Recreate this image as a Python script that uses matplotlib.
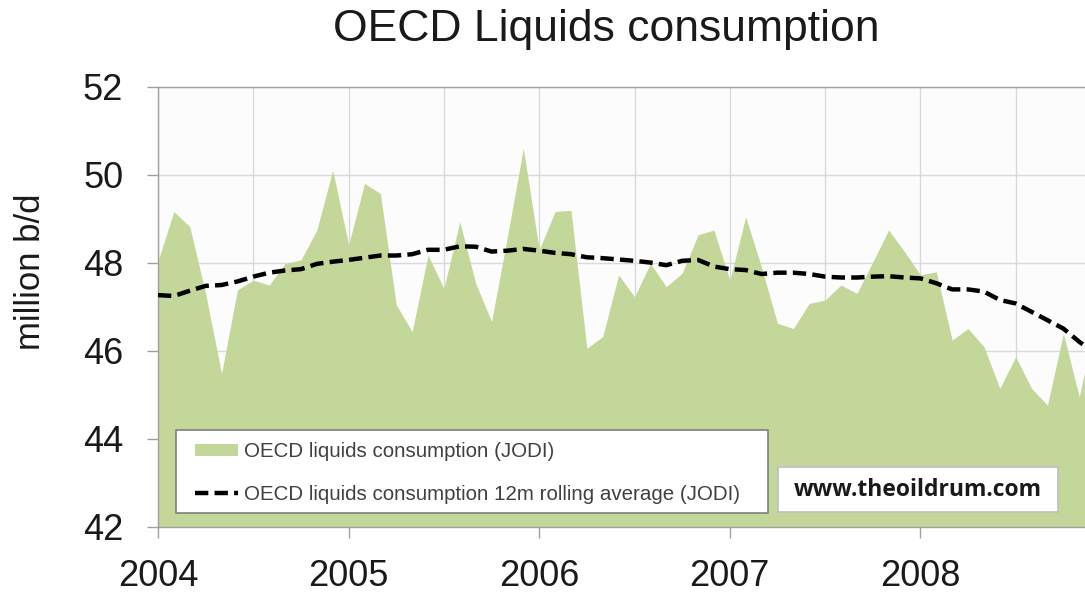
import numpy as np
import matplotlib
matplotlib.use("Agg")
import matplotlib.pyplot as plt
from matplotlib.patches import Patch, Rectangle
from matplotlib.lines import Line2D

# ---- data (monthly, starting Jan 2004) ----
start_year = 2004
consumption = [48.05, 49.17, 48.83, 47.30, 45.49, 47.39, 47.61, 47.50, 47.99, 48.07, 48.75, 50.11,
               48.41, 49.81, 49.58, 47.05, 46.44, 48.18, 47.42, 48.94, 47.54, 46.67, 48.60, 50.61,
               48.30, 49.17, 49.20, 46.06, 46.33, 47.73, 47.23, 47.99, 47.46, 47.77, 48.64, 48.75,
               47.61, 49.05, 47.90, 46.63, 46.51, 47.08, 47.16, 47.50, 47.31, 48.02, 48.75, 48.26,
               47.73, 47.80, 46.25, 46.51, 46.10, 45.15, 45.87, 45.15, 44.77, 46.40, 44.96, 46.60]
rolling_avg = [47.27, 47.25, 47.37, 47.48, 47.50, 47.58, 47.69, 47.78, 47.83, 47.86, 47.98, 48.03,
               48.07, 48.12, 48.17, 48.17, 48.20, 48.30, 48.30, 48.38, 48.37, 48.26, 48.28, 48.32,
               48.28, 48.23, 48.20, 48.13, 48.11, 48.08, 48.05, 48.01, 47.95, 48.05, 48.07, 47.92,
               47.86, 47.84, 47.75, 47.78, 47.78, 47.75, 47.69, 47.67, 47.67, 47.69, 47.70, 47.67,
               47.65, 47.54, 47.40, 47.40, 47.35, 47.16, 47.08, 46.89, 46.70, 46.51, 46.21, 45.95]
year_ticks = [2004, 2005, 2006, 2007, 2008]
y_ticks = [42, 44, 46, 48, 50, 52]
series_labels = ["OECD liquids consumption (JODI)",
                 "OECD liquids consumption 12m rolling average (JODI)"]
title = "OECD Liquids consumption"
y_label = "million b/d"
watermark = "www.theoildrum.com"

x = start_year + np.arange(len(consumption)) / 12.0

# ---- figure ----
W, H = 1085, 605
fig = plt.figure(figsize=(W / 100, H / 100), dpi=100)
plt.rcParams['font.family'] = ['Liberation Sans', 'DejaVu Sans']

L, R, T, B = 158, 1085, 87, 527
ax = fig.add_axes([L / W, (H - B) / H, (R - L) / W, (B - T) / H])

def ax_xy(px, py):
    return (px - L) / (R - L), (B - py) / (B - T)

green = '#c4d79b'
ax.fill_between(x, 42, consumption, color=green, lw=0, zorder=2)
ax.plot(x, rolling_avg, color='black', lw=3.2, dashes=(3.0, 1.4), zorder=3)

ax.set_xlim(2004, 2004 + (R - L) / 190.6)
ax.set_ylim(42, 52)
ax.set_xticks(year_ticks)
ax.set_xticklabels([str(y) for y in year_ticks])
ax.set_xticks([y + 0.5 for y in year_ticks], minor=True)
ax.set_yticks(y_ticks)
ax.set_axisbelow(True)
ax.grid(True, which='both', color='#d9d9d9', lw=1.0, zorder=0)
ax.set_facecolor('#fcfcfc')

ax.tick_params(axis='x', which='major', length=8, width=1, color='#a0a0a0',
               labelsize=26, pad=15, labelcolor='#1a1a1a')
ax.tick_params(axis='x', which='minor', length=0)
ax.tick_params(axis='y', length=8, width=1, color='#a0a0a0', labelsize=26, pad=17,
               labelcolor='#1a1a1a')
for s in ['right']:
    ax.spines[s].set_visible(False)
for s in ['left', 'bottom', 'top']:
    ax.spines[s].set_color('#a0a0a0')
    ax.spines[s].set_linewidth(1.0)

# legend box
x0, y0 = ax_xy(176, 513)
x1, y1 = ax_xy(768, 430)
ax.add_patch(Rectangle((x0, y0), x1 - x0, y1 - y0, transform=ax.transAxes,
                       facecolor='white', edgecolor='#7f7f7f', lw=1.2, zorder=5))
handles = [Patch(facecolor=green, edgecolor='none'),
           Line2D([], [], color='black', lw=3.2, dashes=(3.0, 1.4))]
lx, ly = ax_xy(195, 442)
leg = ax.legend(handles, series_labels, loc='upper left', bbox_to_anchor=(lx, ly),
                bbox_transform=ax.transAxes, frameon=False, fontsize=14.8,
                borderpad=0, borderaxespad=0, handlelength=2.1, handletextpad=0.3,
                handleheight=0.55, labelspacing=1.15, labelcolor='#404040')
leg.set_zorder(6)

# watermark box
wx0, wy0 = ax_xy(778, 512)
wx1, wy1 = ax_xy(1058, 467)
ax.add_patch(Rectangle((wx0, wy0), wx1 - wx0, wy1 - wy0, transform=ax.transAxes,
                       facecolor='white', edgecolor='#bfbfbf', lw=1.2, zorder=5))
tx, ty = ax_xy(918, 490)
ax.text(tx, ty, watermark, transform=ax.transAxes, ha='center', va='center',
        fontsize=16.5, fontweight='bold', family=['Open Sans', 'DejaVu Sans'],
        color='#1a1a1a', zorder=7)

fig.text(606 / W, 1 - 29 / H, title, ha='center', va='center', fontsize=32, color='#1a1a1a')
fig.text(31 / W, 1 - 272 / H, y_label, ha='center', va='center', rotation=90,
         fontsize=25, color='#1a1a1a')

fig.savefig('out.png', dpi=100, facecolor='white')
